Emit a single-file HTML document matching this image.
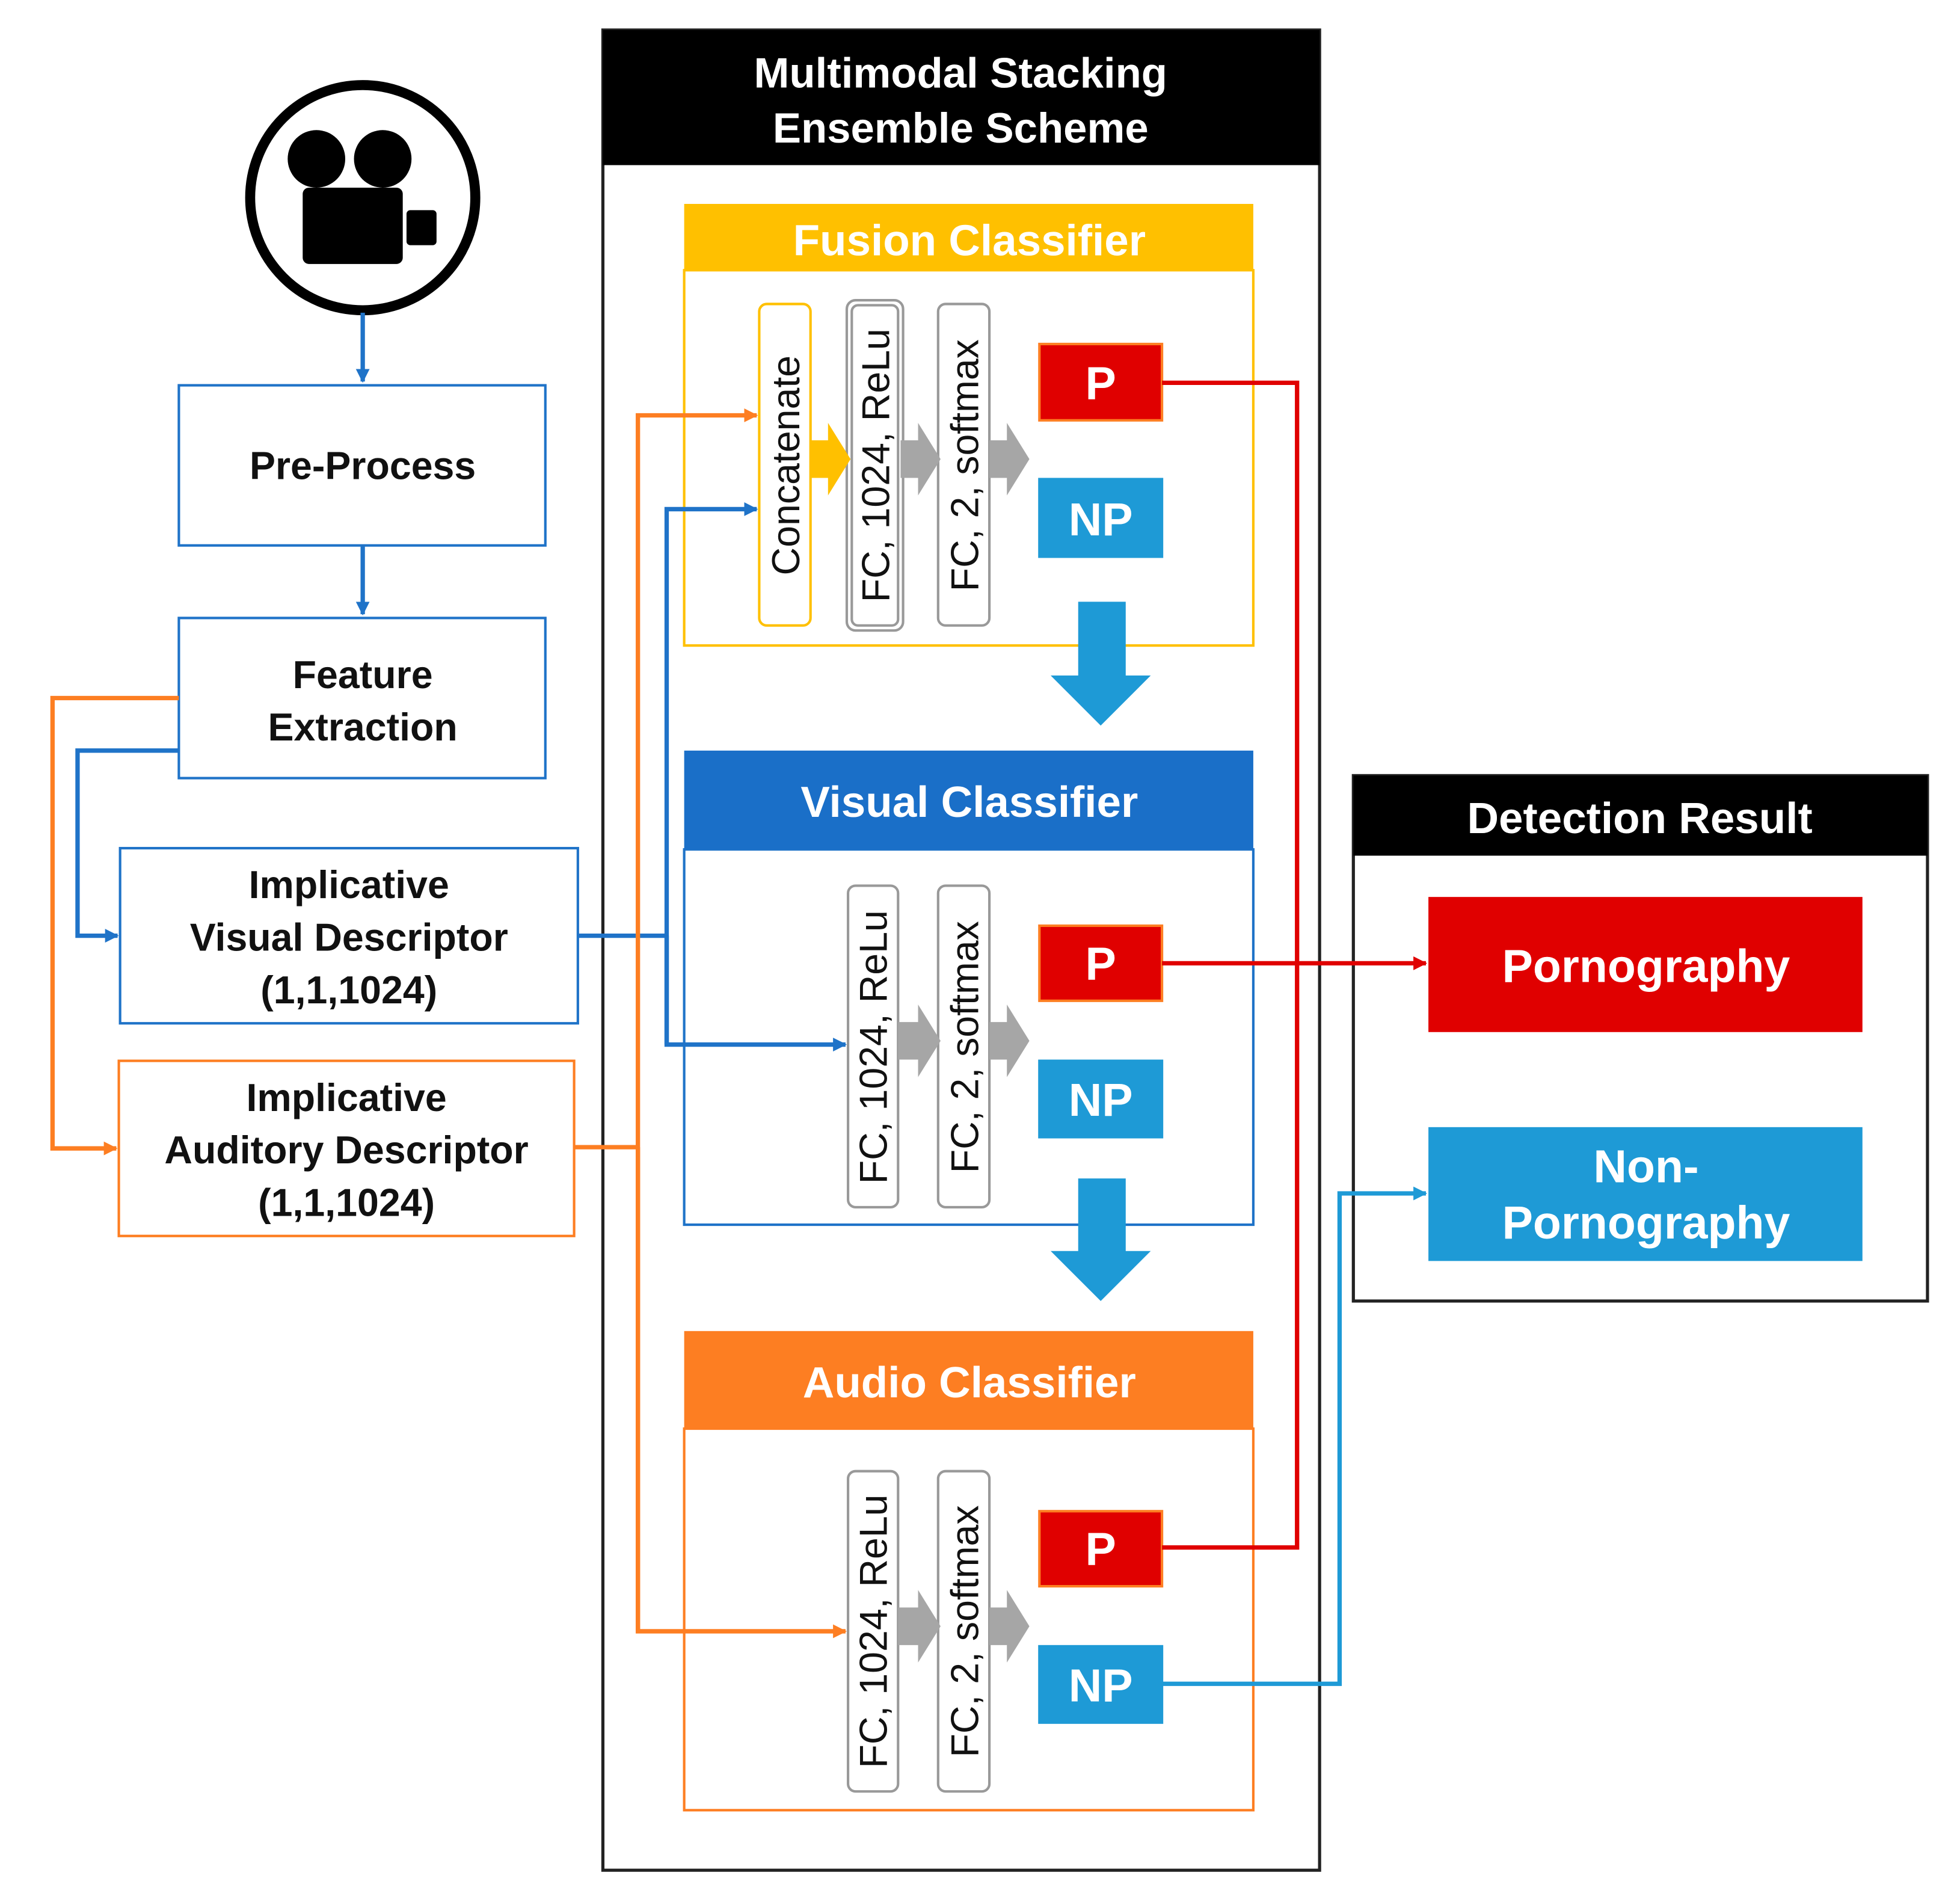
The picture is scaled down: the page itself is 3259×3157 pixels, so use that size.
<!DOCTYPE html>
<html><head><meta charset="utf-8"><style>html,body{margin:0;padding:0;background:#fff}svg{display:block}</style></head>
<body>
<svg width="3259" height="3157" viewBox="0 0 1567 1518" preserveAspectRatio="none" xmlns="http://www.w3.org/2000/svg" font-family="Liberation Sans, sans-serif" font-weight="bold">
<defs>
<marker id="ab" markerWidth="11" markerHeight="11" refX="10" refY="5.5" orient="auto" markerUnits="userSpaceOnUse"><path d="M0,0 L11,5.5 L0,11z" fill="#1f73c8"/></marker>
<marker id="ao" markerWidth="11" markerHeight="11" refX="10" refY="5.5" orient="auto" markerUnits="userSpaceOnUse"><path d="M0,0 L11,5.5 L0,11z" fill="#fd7e22"/></marker>
<marker id="ar" markerWidth="11" markerHeight="11" refX="10" refY="5.5" orient="auto" markerUnits="userSpaceOnUse"><path d="M0,0 L11,5.5 L0,11z" fill="#e00000"/></marker>
<marker id="ac" markerWidth="11" markerHeight="11" refX="10" refY="5.5" orient="auto" markerUnits="userSpaceOnUse"><path d="M0,0 L11,5.5 L0,11z" fill="#1e9ad6"/></marker>
</defs>
<circle cx="290" cy="158" r="90" fill="#fff" stroke="#000" stroke-width="8"/>
<circle cx="253" cy="127" r="23" fill="#000"/>
<circle cx="306" cy="127" r="23" fill="#000"/>
<rect x="242" y="150" width="80" height="61" rx="5" fill="#000"/>
<rect x="325" y="168" width="24" height="28" rx="3" fill="#000"/>
<g fill="#fff" stroke-width="2">
<rect x="143" y="308" width="293" height="128" stroke="#1f73c8"/>
<rect x="143" y="494" width="293" height="128" stroke="#1f73c8"/>
<rect x="96" y="678" width="366" height="140" stroke="#1f73c8"/>
<rect x="95" y="848" width="364" height="140" stroke="#fd7e22"/>
</g>
<g font-size="31" text-anchor="middle" fill="#111">
<text x="290" y="383">Pre-Process</text>
<text x="290" y="550">Feature</text><text x="290" y="592">Extraction</text>
<text x="279" y="718">Implicative</text><text x="279" y="760">Visual Descriptor</text><text x="279" y="802">(1,1,1024)</text>
<text x="277" y="888">Implicative</text><text x="277" y="930">Auditory Descriptor</text><text x="277" y="972">(1,1,1024)</text>
</g>
<rect x="482" y="24" width="573" height="1471" fill="#fff" stroke="#222" stroke-width="2.5"/>
<rect x="482" y="24" width="573" height="108" fill="#000"/>
<text x="768" y="70" font-size="34" fill="#fff" text-anchor="middle">Multimodal Stacking</text>
<text x="768" y="114" font-size="34" fill="#fff" text-anchor="middle">Ensemble Scheme</text>
<rect x="547" y="216" width="455" height="300" fill="#fff" stroke="#ffc000" stroke-width="2"/>
<rect x="547" y="163" width="455" height="53" fill="#ffc000"/>
<text x="775" y="204" font-size="35" fill="#fff" text-anchor="middle">Fusion Classifier</text>
<rect x="547" y="679" width="455" height="300" fill="#fff" stroke="#1f73c8" stroke-width="2"/>
<rect x="547" y="600" width="455" height="79" fill="#1a6fc8"/>
<text x="775" y="653" font-size="35" fill="#fff" text-anchor="middle">Visual Classifier</text>
<rect x="547" y="1142" width="455" height="305" fill="#fff" stroke="#fd7e22" stroke-width="2"/>
<rect x="547" y="1064" width="455" height="78" fill="#fd7e22"/>
<text x="775" y="1117" font-size="35" fill="#fff" text-anchor="middle">Audio Classifier</text>
<g fill="#fff" stroke-width="2">
<rect x="607" y="243" width="41" height="257" rx="6" stroke="#ffc000"/>
<rect x="677" y="240" width="45" height="264" rx="7" stroke="#999"/>
<rect x="681" y="244" width="37" height="256" rx="5" stroke="#999"/>
<rect x="750" y="243" width="41" height="257" rx="6" stroke="#999"/>
<rect x="678" y="708" width="40" height="257" rx="6" stroke="#999"/>
<rect x="750" y="708" width="41" height="257" rx="6" stroke="#999"/>
<rect x="678" y="1176" width="40" height="256" rx="6" stroke="#999"/>
<rect x="750" y="1176" width="41" height="256" rx="6" stroke="#999"/>
</g>
<g font-size="31" font-weight="normal" fill="#111" text-anchor="middle">
<text transform="translate(639,372) rotate(-90)">Concatenate</text>
<text transform="translate(711,372) rotate(-90)">FC, 1024, ReLu</text>
<text transform="translate(782,372) rotate(-90)">FC, 2, softmax</text>
<text transform="translate(709,837) rotate(-90)">FC, 1024, ReLu</text>
<text transform="translate(782,837) rotate(-90)">FC, 2, softmax</text>
<text transform="translate(709,1304) rotate(-90)">FC, 1024, ReLu</text>
<text transform="translate(782,1304) rotate(-90)">FC, 2, softmax</text>
</g>
<path d="M648,352 h14 v-14 l18,29 l-18,29 v-14 h-14z" fill="#ffc000"/>
<g fill="#a6a6a6">
<path d="M720,352 h14 v-14 l18,29 l-18,29 v-14 h-14z"/>
<path d="M791,352 h14 v-14 l18,29 l-18,29 v-14 h-14z"/>
<path d="M718,817 h16 v-14 l18,29 l-18,29 v-14 h-16z"/>
<path d="M791,817 h14 v-14 l18,29 l-18,29 v-14 h-14z"/>
<path d="M718,1285 h16 v-14 l18,29 l-18,29 v-14 h-16z"/>
<path d="M791,1285 h14 v-14 l18,29 l-18,29 v-14 h-14z"/>
</g>
<g stroke-width="2">
<rect x="831" y="275" width="98" height="61" fill="#e00000" stroke="#fd7e22"/>
<rect x="831" y="383" width="98" height="62" fill="#1e9ad6" stroke="#1e9ad6"/>
<rect x="831" y="740" width="98" height="60" fill="#e00000" stroke="#fd7e22"/>
<rect x="831" y="848" width="98" height="61" fill="#1e9ad6" stroke="#1e9ad6"/>
<rect x="831" y="1208" width="98" height="60" fill="#e00000" stroke="#fd7e22"/>
<rect x="831" y="1316" width="98" height="61" fill="#1e9ad6" stroke="#1e9ad6"/>
</g>
<g font-size="37" fill="#fff" text-anchor="middle">
<text x="880" y="319">P</text><text x="880" y="428">NP</text>
<text x="880" y="783">P</text><text x="880" y="892">NP</text>
<text x="880" y="1251">P</text><text x="880" y="1360">NP</text>
</g>
<g fill="#1e9ad6">
<path d="M862,481 h38 v59 h20 l-40,40 l-40,-40 h22z"/>
<path d="M862,942 h38 v58 h20 l-40,40 l-40,-40 h22z"/>
</g>
<rect x="1082" y="620" width="459" height="420" fill="#fff" stroke="#222" stroke-width="2.5"/>
<rect x="1082" y="620" width="459" height="64" fill="#000"/>
<text x="1311" y="666" font-size="35" fill="#fff" text-anchor="middle">Detection Result</text>
<rect x="1142" y="717" width="347" height="108" fill="#e00000"/>
<text x="1316" y="785" font-size="37" fill="#fff" text-anchor="middle">Pornography</text>
<rect x="1142" y="901" width="347" height="107" fill="#1e9ad6"/>
<text x="1316" y="945" font-size="37" fill="#fff" text-anchor="middle">Non-</text>
<text x="1316" y="990" font-size="37" fill="#fff" text-anchor="middle">Pornography</text>
<g fill="none" stroke-width="3.5">
<line x1="290" y1="250" x2="290" y2="305" stroke="#1f73c8" marker-end="url(#ab)"/>
<line x1="290" y1="436" x2="290" y2="491" stroke="#1f73c8" marker-end="url(#ab)"/>
<polyline points="143,558 42,558 42,918 93,918" stroke="#fd7e22" marker-end="url(#ao)"/>
<polyline points="143,600 62,600 62,748 94,748" stroke="#1f73c8" marker-end="url(#ab)"/>
<polyline points="462,748 533,748" stroke="#1f73c8"/>
<polyline points="533,835 533,407 605,407" stroke="#1f73c8" marker-end="url(#ab)"/>
<polyline points="533,748 533,835 676,835" stroke="#1f73c8" marker-end="url(#ab)"/>
<polyline points="459,917 510,917" stroke="#fd7e22"/>
<polyline points="510,1304 510,332 605,332" stroke="#fd7e22" marker-end="url(#ao)"/>
<polyline points="510,917 510,1304 676,1304" stroke="#fd7e22" marker-end="url(#ao)"/>
<polyline points="929,306 1037,306 1037,1237 929,1237" stroke="#e00000"/>
<polyline points="929,770 1140,770" stroke="#e00000" marker-end="url(#ar)"/>
<polyline points="929,1346 1071,1346 1071,954 1140,954" stroke="#1e9ad6" marker-end="url(#ac)"/>
</g>
</svg>
</body></html>
